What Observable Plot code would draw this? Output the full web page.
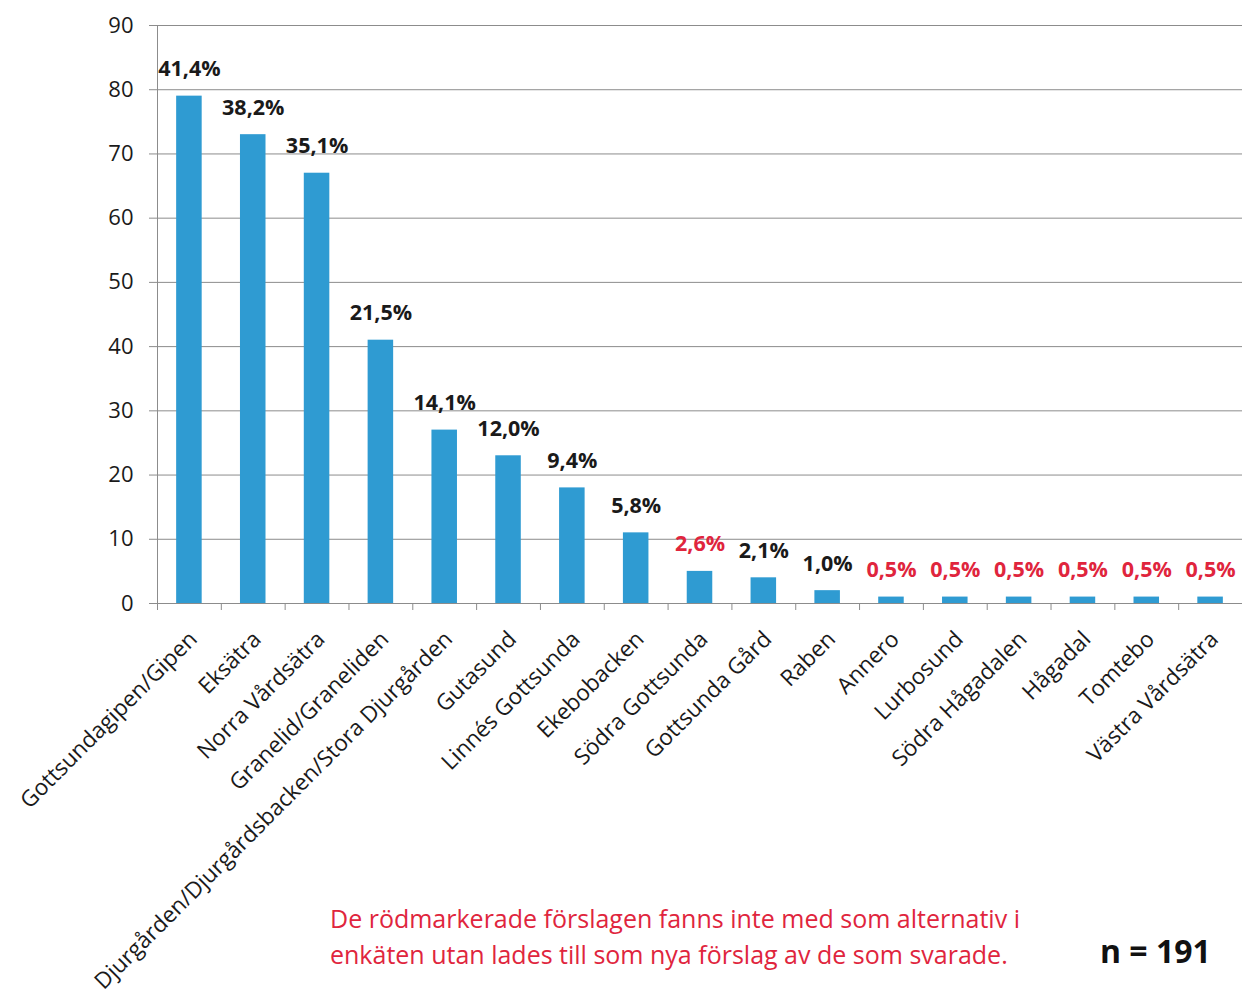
<!DOCTYPE html>
<html>
<head>
<meta charset="utf-8">
<script src="https://cdn.jsdelivr.net/npm/d3@7"></script>
<script src="https://cdn.jsdelivr.net/npm/@observablehq/plot@0.6"></script>
<style>
  html, body { margin: 0; padding: 0; background: #fff; }
  #wrap { position: relative; width: 1242px; height: 994px; font-family: "Open Sans", sans-serif; }
  #chart svg { display: block; }
  #note { position: absolute; left: 330px; top: 900px; color: #e0253d; font-size: 25px; line-height: 36px; white-space: nowrap; }
  #n { position: absolute; left: 1100px; top: 929px; color: #111; font-size: 32px; font-weight: bold; white-space: nowrap; }
</style>
</head>
<body>
<div id="wrap">
  <div id="chart"></div>
  <div id="note">De rödmarkerade förslagen fanns inte med som alternativ i<br>enkäten utan lades till som nya förslag av de som svarade.</div>
  <div id="n">n = 191</div>
</div>
<script>
const categories = [
  "Gottsundagipen/Gipen", "Eksätra", "Norra Vårdsätra", "Granelid/Graneliden",
  "Djurgården/Djurgårdsbacken/Stora Djurgården", "Gutasund", "Linnés Gottsunda",
  "Ekebobacken", "Södra Gottsunda", "Gottsunda Gård", "Raben", "Annero",
  "Lurbosund", "Södra Hågadalen", "Hågadal", "Tomtebo", "Västra Vårdsätra"
];
const counts = [79, 73, 67, 41, 27, 23, 18, 11, 5, 4, 2, 1, 1, 1, 1, 1, 1];
const percentLabels = ["41,4%", "38,2%", "35,1%", "21,5%", "14,1%", "12,0%", "9,4%", "5,8%", "2,6%", "2,1%", "1,0%", "0,5%", "0,5%", "0,5%", "0,5%", "0,5%", "0,5%"];
const newSuggestion = [false, false, false, false, false, false, false, false, true, false, false, true, true, true, true, true, true];
const yTicks = [0, 10, 20, 30, 40, 50, 60, 70, 80, 90];

const data = categories.map((c, i) => ({category: c, count: counts[i], label: percentLabels[i], isNew: newSuggestion[i]}));

const W = 1242, ML = 157, MR = 0;
const step = (W - ML - MR) / categories.length;
const gridColor = "#8c8c8c";

const chart = Plot.plot({
  width: W,
  height: 994,
  marginLeft: ML,
  marginRight: MR,
  marginTop: 25,
  marginBottom: 391,
  style: {fontFamily: "Open Sans, sans-serif", background: "transparent"},
  x: {domain: categories, paddingInner: 0.6, paddingOuter: 0.3, round: false, axis: null},
  y: {domain: [0, 90], axis: null},
  marks: [
    Plot.gridY(yTicks, {stroke: gridColor, strokeOpacity: 1, strokeWidth: 1}),
    Plot.axisY(yTicks, {tickSize: 8, tickPadding: 16, fontSize: 22, stroke: gridColor, fill: "#1a1a1a", label: null}),
    Plot.ruleX([categories[0]], {x: d => d, y1: 0, y2: 90, dx: -step / 2, stroke: gridColor}),
    Plot.barY(data, {x: "category", y: "count", fill: "#2f9bd2"}),
    Plot.ruleY([0], {stroke: gridColor}),
    Plot.ruleX(categories, {x: d => d, y1: 0, y2: 0, insetTop: 0, insetBottom: -7, dx: -step / 2, stroke: gridColor}),
    Plot.text(data, {x: "category", y: "count", text: "label", dy: -27, fontSize: 21.5, fontWeight: "bold",
      fill: d => d.isNew ? "#e0253d" : "#1a1a1a"}),
    Plot.text(data, {x: "category", y: () => 0, text: "category", rotate: -45, textAnchor: "end",
      dx: 4, dy: 32, fontSize: 22.5, fill: "#1a1a1a"})
  ]
});
document.getElementById("chart").appendChild(chart);
</script>
</body>
</html>
